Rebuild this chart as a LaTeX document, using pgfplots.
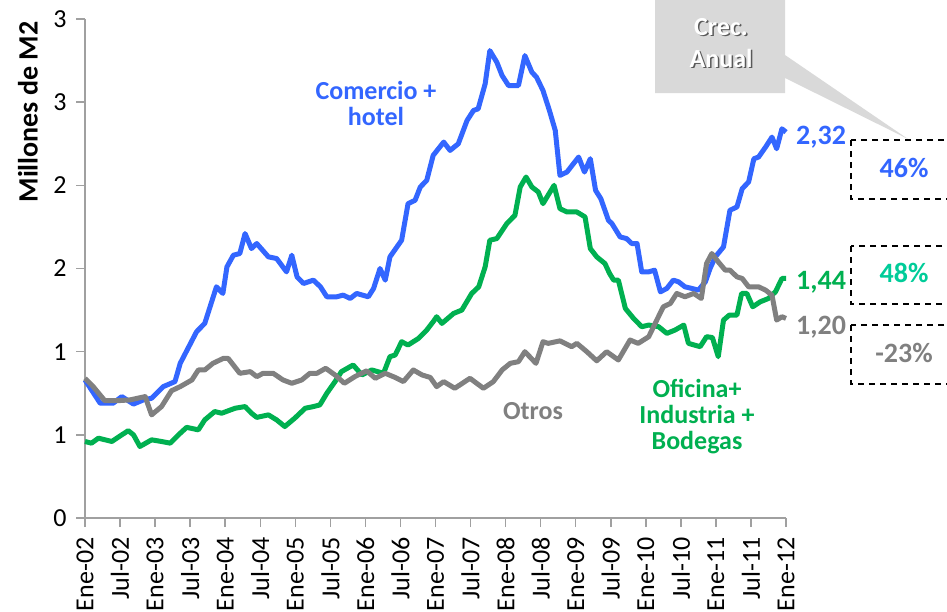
\documentclass[border=0pt]{standalone}
\usepackage{pgfplots}
\pgfplotsset{compat=1.18}
\usepackage{fontspec}
\setmainfont{Carlito}
\definecolor{azul}{HTML}{3366FF}
\definecolor{verde}{HTML}{00B050}
\definecolor{gris}{HTML}{808080}
\definecolor{turq}{HTML}{00CC99}
\definecolor{caja}{HTML}{D9D9D9}
\definecolor{eje}{HTML}{A0A0A0}
\newcommand{\fs}[1]{\fontsize{#1}{#1}\selectfont}

\begin{document}
\begin{tikzpicture}
\begin{axis}[
  scale only axis, width=701pt, height=499pt,
  at={(85pt,-518pt)}, anchor=south west,
  xmin=0, xmax=120, ymin=0, ymax=3,
  axis x line*=bottom, axis y line*=left,
  axis line style={eje, line width=1.5pt},
  every tick/.style={eje, line width=1.5pt},
  tick align=outside, major tick length=9pt,
  xtick={0,6,...,120},
  xticklabels={Ene-02,Jul-02,Ene-03,Jul-03,Ene-04,Jul-04,Ene-05,Jul-05,Ene-06,Jul-06,Ene-07,Jul-07,Ene-08,Jul-08,Ene-09,Jul-09,Ene-10,Jul-10,Ene-11,Jul-11,Ene-12},
  ytick={0,0.5,...,3}, yticklabels={0,1,1,2,2,3,3},
  ticklabel style={font=\fs{26}},
  xticklabel style={rotate=90, anchor=east},
  yticklabel style={anchor=east, xshift=-6pt},
  xticklabel shift=7pt,
  /pgf/number format/assume math mode=true,
  clip=false,
  every axis plot/.append style={line width=5pt, line join=round},
]
% Comercio + hotel
\addplot[azul] coordinates {(0,0.83)(2.6,0.69)(4.8,0.69)(6.3,0.73)(8.3,0.685)(10,0.71)(11.4,0.72)(13.4,0.79)(15.4,0.82)(16.3,0.93)(19.1,1.12)(20.5,1.17)(22.5,1.39)(23.6,1.35)(24.3,1.51)(25.4,1.58)(26.5,1.59)(27.4,1.71)(28.5,1.62)(29.4,1.65)(31.4,1.57)(32.8,1.56)(34.5,1.48)(35.4,1.58)(36.3,1.45)(37.4,1.41)(39.1,1.43)(40.3,1.39)(41.4,1.33)(43.1,1.33)(44.2,1.34)(45.4,1.32)(46.5,1.35)(48.5,1.33)(49.4,1.38)(50.5,1.50)(51.4,1.43)(52.2,1.57)(54.2,1.67)(55.3,1.89)(56.5,1.91)(57.4,1.99)(58.5,2.03)(59.6,2.18)(61.4,2.26)(62.5,2.21)(63.9,2.25)(65.4,2.39)(66.5,2.45)(67.3,2.46)(68.5,2.61)(69.3,2.81)(70.5,2.74)(71.4,2.66)(72.5,2.60)(74.2,2.60)(75.3,2.78)(76.5,2.68)(77.3,2.65)(78.4,2.57)(79.5,2.45)(80.5,2.33)(81.3,2.06)(82.5,2.08)(84.5,2.17)(85.5,2.08)(86.5,2.16)(87.4,1.97)(88.3,1.92)(89.6,1.79)(90.2,1.77)(91.6,1.69)(92.7,1.68)(93.6,1.65)(94.5,1.65)(95.3,1.48)(96.5,1.48)(97.5,1.49)(98.5,1.36)(99.6,1.38)(100.7,1.43)(101.6,1.42)(102.7,1.39)(103.9,1.38)(105,1.37)(106.2,1.42)(107,1.50)(107.9,1.57)(109.3,1.63)(109.9,1.75)(110.4,1.85)(111.6,1.87)(112.5,1.98)(113.6,2.02)(114.5,2.16)(115.3,2.17)(116.5,2.23)(117.6,2.29)(118.4,2.22)(119.3,2.34)(120,2.32)};
% Oficina + Industria + Bodegas
\addplot[verde] coordinates {(0,0.46)(1.1,0.45)(2.3,0.48)(4.6,0.46)(6.3,0.50)(7.4,0.525)(8.3,0.50)(9.4,0.43)(11.4,0.47)(13.1,0.46)(14.6,0.45)(16,0.50)(17.4,0.545)(19.4,0.53)(20.5,0.59)(22.2,0.64)(23.4,0.63)(25.7,0.66)(27.4,0.67)(28.5,0.63)(29.4,0.605)(31.4,0.62)(32.8,0.59)(34.2,0.55)(35.9,0.60)(37.7,0.66)(39.1,0.67)(40.2,0.68)(41.4,0.75)(42.8,0.82)(43.9,0.88)(45.9,0.92)(47.4,0.86)(49.1,0.89)(51.1,0.87)(52.2,0.97)(53.1,0.98)(54.2,1.06)(55.3,1.04)(57.1,1.08)(58.5,1.13)(59.6,1.18)(60.2,1.21)(61.1,1.17)(63.1,1.23)(64.5,1.25)(66.2,1.35)(67.4,1.39)(68.5,1.51)(69.3,1.67)(70.5,1.68)(72.2,1.77)(73.6,1.82)(74.5,1.99)(75.5,2.05)(76.5,1.99)(77.6,1.96)(78.4,1.89)(80.3,2.00)(81.3,1.86)(82.5,1.84)(84.2,1.84)(85.6,1.81)(86.5,1.62)(87.6,1.57)(89,1.53)(89.8,1.47)(90.5,1.43)(91.3,1.43)(92.5,1.26)(93.9,1.20)(95.3,1.15)(96.5,1.16)(98.2,1.15)(99.6,1.11)(101,1.13)(102.5,1.16)(103.3,1.05)(105.3,1.03)(106.4,1.09)(107.4,1.085)(108.4,0.97)(109.3,1.19)(110.3,1.22)(111.6,1.22)(112.4,1.35)(113.3,1.35)(114.3,1.27)(115.6,1.30)(117,1.32)(118.2,1.36)(119.3,1.44)(120,1.44)};
% Otros
\addplot[gris] coordinates {(0,0.84)(1.4,0.79)(3.4,0.705)(5.4,0.705)(7.7,0.71)(10.3,0.73)(11.4,0.62)(13.1,0.67)(14.8,0.765)(16.3,0.79)(18.3,0.83)(19.4,0.89)(20.5,0.89)(21.9,0.93)(23.7,0.96)(24.5,0.96)(26.5,0.87)(28.3,0.88)(29.4,0.85)(30.5,0.87)(32.2,0.87)(33.9,0.83)(35.4,0.81)(37.1,0.83)(38.5,0.87)(39.7,0.87)(41.2,0.90)(42.8,0.86)(44.4,0.81)(46.2,0.85)(48.2,0.885)(49.7,0.84)(51.4,0.87)(53.1,0.845)(54.5,0.82)(56.2,0.89)(57.7,0.86)(59.1,0.845)(60.2,0.79)(61.4,0.82)(63.3,0.78)(65.9,0.84)(68.2,0.78)(69.9,0.82)(71.4,0.89)(72.8,0.93)(74.2,0.94)(75.3,1.00)(77.2,0.93)(78.4,1.06)(79.3,1.05)(81.3,1.065)(83.3,1.03)(84.2,1.05)(85.9,1.00)(87.6,0.945)(89.3,1.00)(91.3,0.95)(93.3,1.07)(94.7,1.05)(96.5,1.09)(97.6,1.17)(99,1.27)(100.2,1.29)(101.3,1.35)(102.7,1.33)(104.2,1.35)(105.5,1.32)(106.4,1.53)(107.3,1.59)(108.4,1.54)(109.6,1.49)(110.4,1.49)(111.6,1.45)(112.5,1.44)(113.6,1.39)(115.3,1.39)(116.5,1.37)(117.6,1.34)(118.4,1.19)(119.3,1.21)(120,1.20)};
\end{axis}

\begin{scope}[x=1pt, y=1pt]
% titulo eje y
\node[rotate=90, font=\fs{28}\bfseries] at (28,-112) {Millones de M2};
% etiquetas de series
\node[azul, font=\fs{26}\bfseries, align=center] at (376,-103) {Comercio +\\hotel};
\node[gris, font=\fs{26}\bfseries] at (533,-411) {Otros};
\node[verde, font=\fs{26}\bfseries, align=center] at (697,-417) {Oficina+\\Industria +\\Bodegas};
% valores finales
\node[azul, font=\fs{28}\bfseries, anchor=west, inner sep=0] at (796,-137) {2,32};
\node[verde, font=\fs{28}\bfseries, anchor=west, inner sep=0] at (796,-282) {1,44};
\node[gris, font=\fs{28}\bfseries, anchor=west, inner sep=0] at (796,-327) {1,20};
% callout
\fill[caja] (655,5) -- (785,5) -- (785,-55) -- (908,-139) -- (785,-78) -- (785,-93) -- (655,-93) -- cycle;
\node[gray!70!black, font=\fs{26}\bfseries] at (722.5,-28.5) {Crec.};
\node[gray!70!black, font=\fs{26}\bfseries] at (722.5,-59.5) {Anual};
\node[white, font=\fs{26}\bfseries] at (721,-27) {Crec.};
\node[white, font=\fs{26}\bfseries] at (721,-58) {Anual};
% cajas de crecimiento
\draw[black, line width=1.5pt, dash pattern=on 6pt off 5pt] (851,-140) rectangle (965,-199);
\draw[black, line width=1.5pt, dash pattern=on 6pt off 5pt] (851,-246) rectangle (965,-304);
\draw[black, line width=1.5pt, dash pattern=on 6pt off 5pt] (851,-325) rectangle (965,-384);
\node[azul, font=\fs{28}\bfseries] at (904,-168) {46\%};
\node[turq, font=\fs{28}\bfseries] at (904,-273) {48\%};
\node[gris, font=\fs{28}\bfseries] at (904,-353) {-23\%};
\pgfresetboundingbox
\path (0,0) rectangle (947,-611);
\end{scope}
\end{tikzpicture}
\end{document}
